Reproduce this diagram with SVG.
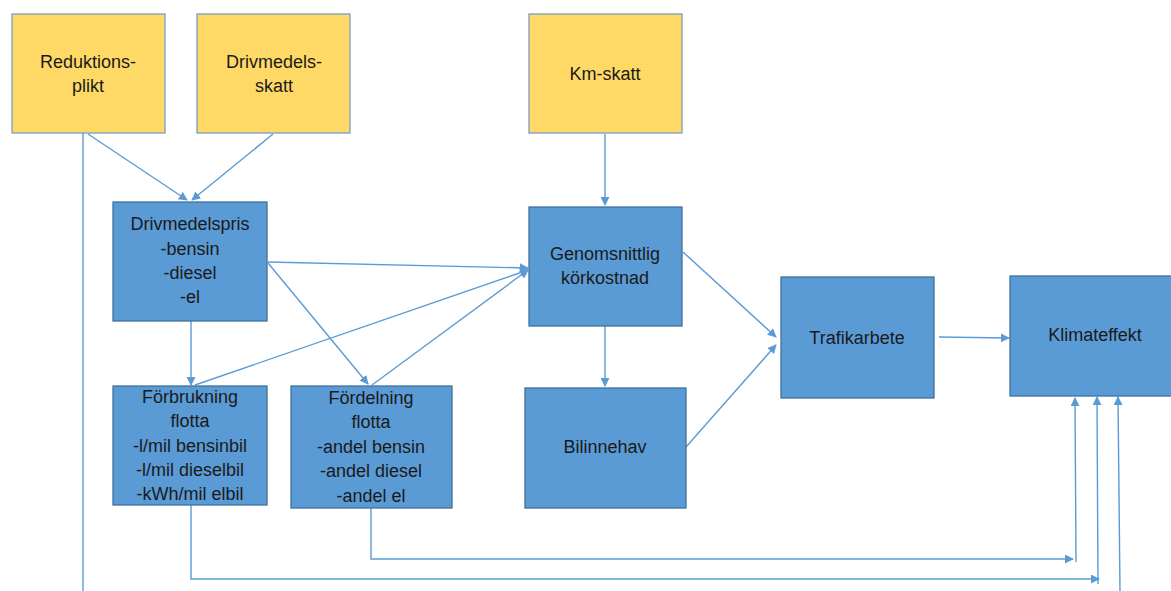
<svg xmlns="http://www.w3.org/2000/svg" width="1171" height="591" viewBox="0 0 1171 591">
<style>
.y{fill:#FFD966;stroke:#7A9CC6;stroke-width:1.3}
.b{fill:#5B9BD5;stroke:#41719C;stroke-width:1.3}
text{font-family:"Liberation Sans",Arial,sans-serif;font-size:18px;fill:#1a1a1a;text-anchor:middle}
.c line,.c polyline{stroke:#5B9BD5;stroke-width:1.4;fill:none}
.a{marker-end:url(#ar)}
</style>
<defs>
<marker id="ar" viewBox="0 0 10 10" refX="9" refY="5" markerWidth="9" markerHeight="9" markerUnits="userSpaceOnUse" orient="auto">
<path d="M0,0 L10,5 L0,10 z" fill="#5B9BD5"/>
</marker>
<marker id="ar2" viewBox="0 0 10 10" refX="9" refY="5" markerWidth="11" markerHeight="11" markerUnits="userSpaceOnUse" orient="auto">
<path d="M0,0 L10,5 L0,10 z" fill="#5B9BD5"/>
</marker>
</defs>
<rect width="1171" height="591" fill="#fff"/>
<g class="c" id="connectors">
<line x1="83" y1="133" x2="83" y2="591"/>
<line class="a" x1="88" y1="134" x2="187" y2="200"/>
<line class="a" x1="273" y1="134" x2="192" y2="200"/>
<line class="a" x1="605" y1="134" x2="605" y2="205"/>
<line class="a" x1="268" y1="262" x2="528" y2="268"/>
<line class="a" x1="268" y1="263" x2="368" y2="384"/>
<line class="a" x1="195" y1="385" x2="528" y2="270"/>
<line class="a" x1="372" y1="385" x2="528" y2="270"/>
<line class="a" x1="191" y1="321" x2="191" y2="385"/>
<line class="a" x1="605" y1="326" x2="605" y2="386"/>
<line class="a" x1="683" y1="252" x2="776" y2="337"/>
<line class="a" x1="686" y1="447" x2="776" y2="345"/>
<line class="a" x1="939" y1="337" x2="1009" y2="338"/>
<polyline class="a" points="371,508 371,559 1073,559"/>
<line class="a" x1="1076" y1="562" x2="1075" y2="398"/>
<polyline class="a" points="191,505 191,579 1099,579"/>
<line class="a" x1="1098" y1="584" x2="1097" y2="397"/>
<line class="a" x1="1120" y1="591" x2="1118" y2="397"/>
</g>
<g id="reduktionsplikt"><rect class="y" x="12" y="14" width="153" height="119"/><text x="88" y="68">Reduktions-</text><text x="88" y="92">plikt</text></g>
<g id="drivmedelsskatt"><rect class="y" x="197" y="14" width="153" height="119"/><text x="274" y="68">Drivmedels-</text><text x="274" y="92">skatt</text></g>
<g id="kmskatt"><rect class="y" x="529" y="14" width="153" height="119"/><text x="605" y="80">Km-skatt</text></g>
<g id="drivmedelspris"><rect class="b" x="113" y="202" width="154" height="119"/><text x="190" y="230">Drivmedelspris</text><text x="190" y="255">-bensin</text><text x="190" y="279">-diesel</text><text x="190" y="303">-el</text></g>
<g id="forbrukning"><rect class="b" x="113" y="386" width="154" height="119"/><text x="190" y="403">Förbrukning</text><text x="190" y="427">flotta</text><text x="190" y="452">-l/mil bensinbil</text><text x="190" y="476">-l/mil dieselbil</text><text x="190" y="500">-kWh/mil elbil</text></g>
<g id="fordelning"><rect class="b" x="291" y="386" width="161" height="122"/><text x="371" y="404">Fördelning</text><text x="371" y="428">flotta</text><text x="371" y="453">-andel bensin</text><text x="371" y="477">-andel diesel</text><text x="371" y="502">-andel el</text></g>
<g id="genomsnittlig"><rect class="b" x="529" y="207" width="153" height="119"/><text x="605" y="260">Genomsnittlig</text><text x="605" y="284">körkostnad</text></g>
<g id="bilinnehav"><rect class="b" x="525" y="388" width="161" height="120"/><text x="605" y="453">Bilinnehav</text></g>
<g id="trafikarbete"><rect class="b" x="781" y="277" width="153" height="121"/><text x="857" y="344">Trafikarbete</text></g>
<g id="klimateffekt"><rect class="b" x="1010" y="276" width="170" height="120"/><text x="1095" y="341">Klimateffekt</text></g>
</svg>
